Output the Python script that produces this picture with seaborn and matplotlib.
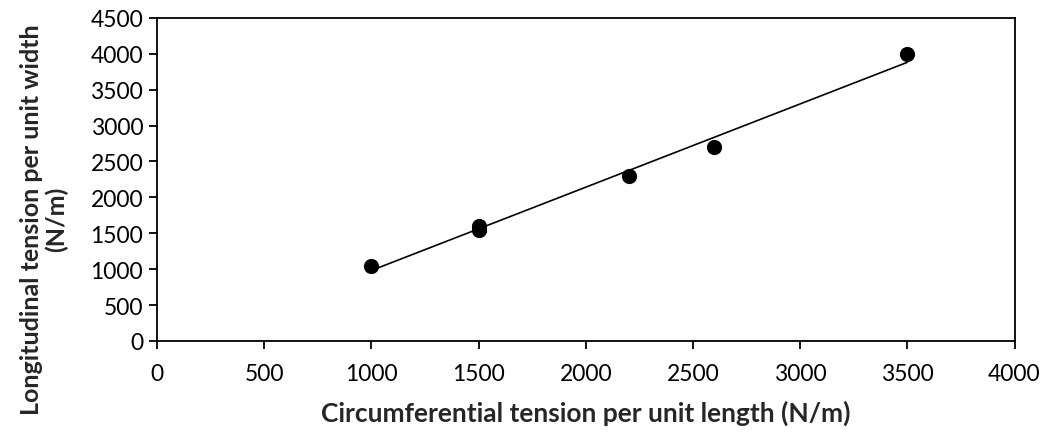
import numpy as np
import pandas as pd
import seaborn as sns
import matplotlib.pyplot as plt

# data
circumferential = [1000, 1500, 1500, 2200, 2600, 3500]
longitudinal = [1050, 1600, 1550, 2300, 2700, 4000]

df = pd.DataFrame({'circ': circumferential, 'long': longitudinal})

sns.set_style('white')
plt.rcParams['font.family'] = ['Lato', 'DejaVu Sans']

fig = plt.figure(figsize=(10.47, 4.39), dpi=100)
ax = fig.add_axes([0.150, 0.221, 0.819, 0.736])

sns.regplot(data=df, x='circ', y='long', ci=None, ax=ax,
            scatter_kws={'s': 120, 'color': 'black', 'alpha': 1, 'zorder': 3, 'linewidths': 0},
            line_kws={'color': 'black', 'linewidth': 1.2})

ax.set_xlim(0, 4000)
ax.set_ylim(0, 4500)
ax.set_xticks(np.arange(0, 4001, 500))
ax.set_yticks(np.arange(0, 4501, 500))

for s in ax.spines.values():
    s.set_color('black')
    s.set_linewidth(1.3)

ax.tick_params(axis='both', direction='out', length=6, width=1.3, colors='black',
               labelsize=16.5, left=True, bottom=True)
ax.tick_params(axis='x', pad=10)
ax.tick_params(axis='y', pad=4)

ax.set_xlabel('Circumferential tension per unit length (N/m)', fontsize=19,
              fontweight='bold', labelpad=11)
ax.set_ylabel('Longitudinal tension per unit width\n(N/m)', fontsize=18,
              fontweight='bold', linespacing=1.05)
ax.yaxis.set_label_coords(-0.104, 0.378)

plt.savefig('out.png', dpi=100)
